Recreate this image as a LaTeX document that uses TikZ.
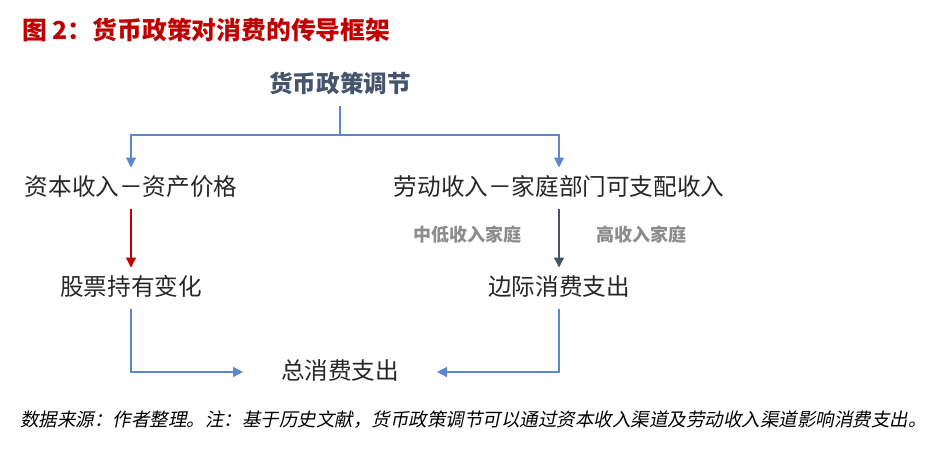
\documentclass[tikz,border=0pt]{standalone}
\usepackage{fontspec}
\newfontfamily\cjk{Noto Sans CJK SC}
\newfontfamily\cjkslant[FakeSlant=0.2]{Noto Sans CJK SC}
\usetikzlibrary{positioning, arrows.meta}
\definecolor{titlered}{HTML}{C00000}
\definecolor{slate}{HTML}{44546A}
\definecolor{linkblue}{HTML}{5B86D0}
\definecolor{textdark}{HTML}{262626}
\definecolor{labelgray}{HTML}{8C8C8C}

\begin{document}
\begin{tikzpicture}[x=0.5pt, y=-0.5pt,
      item/.style={font=\cjk\fontsize{11.8}{14}\selectfont, text=textdark, inner sep=0pt,
        text height=9pt, text depth=1.5pt, outer ysep=5pt},
      group/.style={font=\cjk\bfseries\fontsize{9}{11}\selectfont, text=labelgray, inner sep=0pt},
      link/.style={-{Triangle[length=5pt, width=5pt]}, semithick, linkblue},
      flow/.style={-{Triangle[length=5pt, width=5pt]}, semithick}
    ]
      \useasboundingbox (0,0) rectangle (936,462);

      \node[anchor=west, font=\cjk\bfseries\fontsize{12.4}{14}\selectfont, text=titlered, inner sep=0pt] (title) at (22,30) {图 2：货币政策对消费的传导框架};

      \node[item, font=\cjk\bfseries\fontsize{11.8}{14}\selectfont, text=slate] (policy) at (340,85) {货币政策调节};
      \node[item] (capital) at (131,188) {资本收入－资产价格};
      \node[item] (labour) at (559,188) {劳动收入－家庭部门可支配收入};
      \node[item] (stock) at (131,288) {股票持有变化};
      \node[item] (marginal) at (559,288) {边际消费支出};
      \node[item, outer xsep=19pt] (total) at (340,372) {总消费支出};

      \node[group] (lowmid) at (467,235) {中低收入家庭};
      \node[group] (high) at (641,235) {高收入家庭};

      \coordinate (fork) at (340,135);
      \draw[semithick, linkblue] (policy.south) -- (fork);
      \draw[link] (fork) -| (capital.north);
      \draw[link] (fork) -| (labour.north);

      \draw[flow, titlered] (capital.south) -- (stock.north);
      \draw[flow, slate] (labour.south) -- (marginal.north);

      \draw[link] (stock.south) |- (total.west);
      \draw[link] (marginal.south) |- (total.east);

      \node[anchor=west, font=\cjkslant\fontsize{9.25}{11}\selectfont, text=black, inner sep=0pt] (source) at (20,420) {数据来源：作者整理。注：基于历史文献，货币政策调节可以通过资本收入渠道及劳动收入渠道影响消费支出。};
    \end{tikzpicture}
\end{document}
